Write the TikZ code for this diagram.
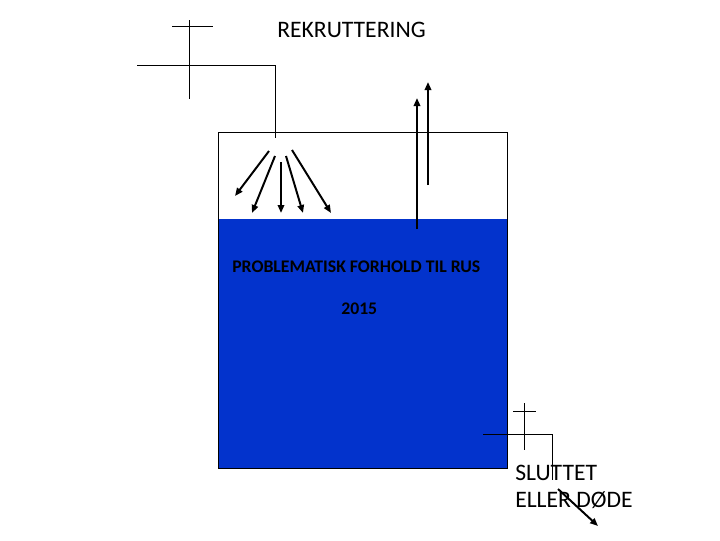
\documentclass[tikz,border=0pt]{standalone}
\usepackage{fontspec}
\setmainfont{Carlito}
\usetikzlibrary{arrows.meta, calc}
\definecolor{tankblue}{RGB}{3,51,204}

\begin{document}
\begin{tikzpicture}[x=0.025cm, y=-0.025cm, >={Triangle[length=2mm, width=1.6mm]},
  pipe/.style={line width=0.7pt}, flow/.style={->, line width=1.4pt},
  every node/.style={inner sep=0pt, anchor=base west, font=\fontsize{16.8}{20}\selectfont}]
  \useasboundingbox (0,0) rectangle (720,540);
  % tank
  \coordinate (tanktop) at (218,132);
  \coordinate (level) at (218,219);
  \coordinate (tankbot) at (507,468);
  \fill[tankblue] (level) rectangle (tankbot);
  \draw[line width=0.7pt] (tanktop) rectangle (tankbot);
  \node (problem) at (232,272) {\fontsize{12.6}{14}\selectfont\bfseries PROBLEMATISK FORHOLD TIL RUS};
  \node (year) at (341,314) {\fontsize{12.6}{14}\selectfont\bfseries 2015};
  % inflow tap
  \node (rekr) at (277,37) {REKRUTTERING};
  \coordinate (spout) at (275,138);
  \draw[pipe] (189,20) -- (189,99);
  \draw[pipe] (172,26) -- (213,26);
  \draw[pipe] (137,65) -- (275,65) -- (spout);
  \foreach \sx/\sy/\ex/\ey in {-6/13/-40/58, 0/18/-23/75, 6/24/6/75, 11/18/28/75, 17/12/56/75}
    \draw[flow] ($(spout)+(\sx,\sy)$) -- ($(spout)+(\ex,\ey)$);
  % up arrows
  \coordinate (upone) at (417,229);
  \coordinate (uptwo) at (428,185);
  \draw[flow] (upone) -- ($(upone)+(0,-131)$);
  \draw[flow] (uptwo) -- ($(uptwo)+(0,-103)$);
  % outflow tap
  \node (slutt) at (515,480) {SLUTTET};
  \node (dode) at (515,507) {ELLER DØDE};
  \coordinate (drain) at (552,480);
  \draw[pipe] (524,403) -- (524,450);
  \draw[pipe] (513,411) -- (536,411);
  \draw[pipe] (483,434) -- (552,434) -- (drain);
  \draw[flow] ($(drain)+(6,9)$) -- ($(drain)+(46,46)$);
\end{tikzpicture}
\end{document}
